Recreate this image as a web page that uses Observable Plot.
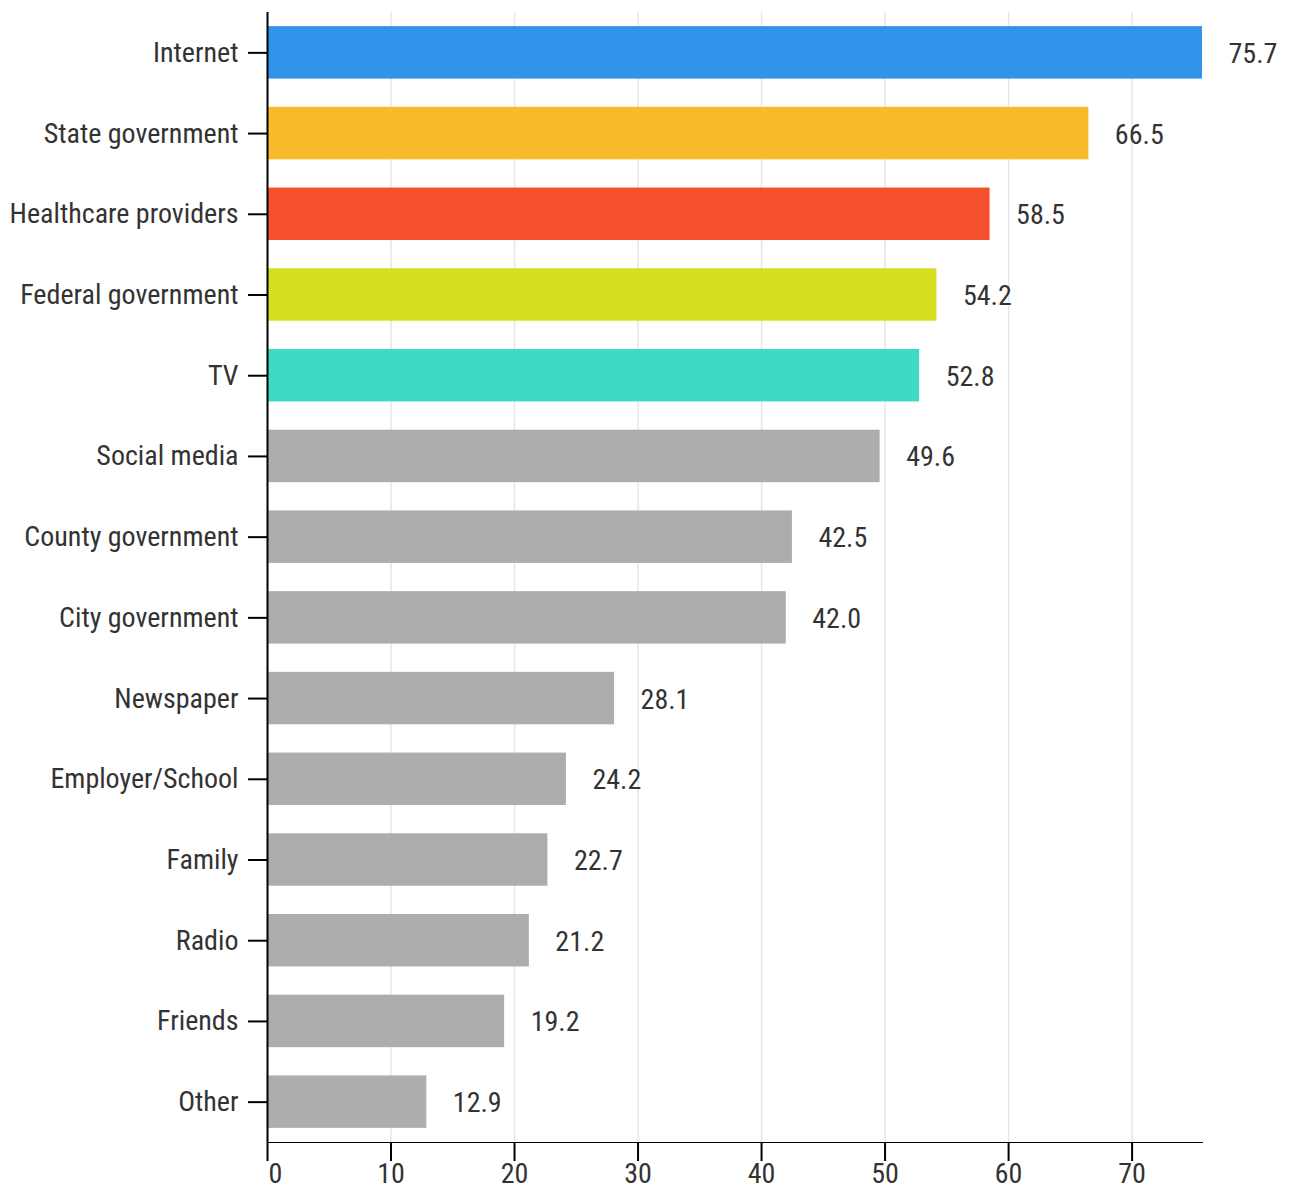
<!DOCTYPE html>
<html>
<head>
<meta charset="utf-8">
<script src="https://cdn.jsdelivr.net/npm/d3@7"></script>
<script src="https://cdn.jsdelivr.net/npm/@observablehq/plot@0.6"></script>
<style>
  html, body { margin: 0; padding: 0; background: #fff; }
  #chart svg { font-family: "Roboto Condensed", Roboto, sans-serif; font-stretch: condensed; }
  #chart svg text { fill: #333; }
  #chart svg g[aria-label*="axis"] { stroke-width: 2px; }
</style>
</head>
<body>
<div id="chart"></div>
<script>
const categories = ["Internet", "State government", "Healthcare providers", "Federal government", "TV", "Social media", "County government", "City government", "Newspaper", "Employer/School", "Family", "Radio", "Friends", "Other"];
const values = [75.7, 66.5, 58.5, 54.2, 52.8, 49.6, 42.5, 42.0, 28.1, 24.2, 22.7, 21.2, 19.2, 12.9];
const colors = ["#3094EA", "#F6BA2A", "#F5502D", "#D6E021", "#3DDBC3", "#ADADAD", "#ADADAD", "#ADADAD", "#ADADAD", "#ADADAD", "#ADADAD", "#ADADAD", "#ADADAD", "#ADADAD"];
const xTicks = [0, 10, 20, 30, 40, 50, 60, 70];

const data = categories.map((c, i) => ({category: c, value: values[i], color: colors[i]}));

const plot = Plot.plot({
  width: 1291,
  height: 1188,
  marginLeft: 267,
  marginRight: 89,
  marginTop: 12,
  marginBottom: 46,
  style: {fontSize: "28px", color: "black", background: "white"},
  x: {domain: [0, 75.7], ticks: xTicks, tickSize: 19, tickPadding: 2, line: true, label: null},
  y: {domain: categories, paddingInner: 0.35, paddingOuter: 0.175, round: false, tickSize: 19, tickPadding: 10, line: true, label: null},
  marks: [
    Plot.gridX(xTicks.filter(d => d > 0), {stroke: "#e6e6e6", strokeOpacity: 1, strokeWidth: 1.5}),
    Plot.barX(data, {x: "value", y: "category", fill: "color", insetLeft: 1}),
    Plot.text(data, {x: "value", y: "category", text: d => d.value.toFixed(1), textAnchor: "start", dx: 26, dy: 1, fill: "#333"}),
    Plot.ruleX([0], {stroke: "black", strokeWidth: 2})
  ]
});
document.getElementById("chart").appendChild(plot);
// nudge the "0" tick label off the axis line
d3.select(plot).selectAll('g[aria-label="x-axis tick label"] text').filter((d, i) => i === 0).attr("dx", 8);
</script>
</body>
</html>
